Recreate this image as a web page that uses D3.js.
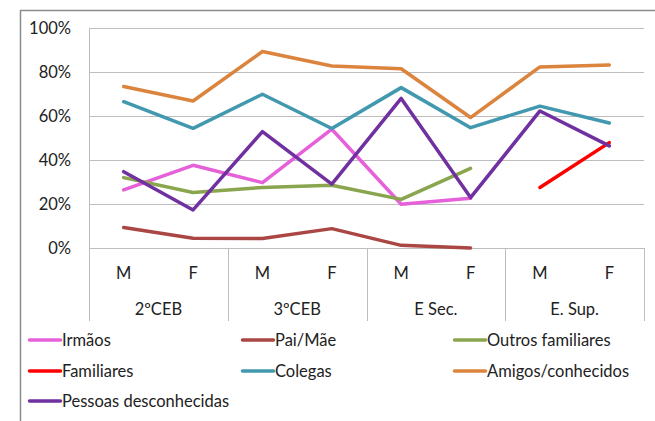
<!DOCTYPE html>
<html>
<head>
<meta charset="utf-8">
<script src="https://cdn.jsdelivr.net/npm/d3@7"></script>
<style>
  body { margin: 0; background: #fff; }
  svg { display: block; font-family: Lato, "Open Sans", sans-serif; }
</style>
</head>
<body>
<div id="chart"></div>
<script>
// categories
const groups = ["2ºCEB", "3ºCEB", "E Sec.", "E. Sup."];
const sexes = ["M", "F"];
const yTicks = [0, 0.2, 0.4, 0.6, 0.8, 1];

// series values (null = no data)
const irmaos      = [0.264, 0.376, 0.297, 0.54, 0.199, 0.226, null, null];
const paiMae      = [0.093, 0.044, 0.043, 0.088, 0.012, 0.0, null, null];
const outrosFam   = [0.32, 0.252, 0.275, 0.285, 0.221, 0.362, null, null];
const familiares  = [null, null, null, null, null, null, 0.275, 0.479];
const colegas     = [0.665, 0.544, 0.699, 0.543, 0.729, 0.547, 0.645, 0.568];
const amigos      = [0.734, 0.668, 0.893, 0.827, 0.815, 0.593, 0.823, 0.832];
const desconhec   = [0.347, 0.173, 0.529, 0.29, 0.68, 0.229, 0.623, 0.464];

const seriesNames = ["Irmãos", "Pai/Mãe", "Outros familiares", "Familiares", "Colegas", "Amigos/conhecidos", "Pessoas desconhecidas"];
const seriesValues = [irmaos, paiMae, outrosFam, familiares, colegas, amigos, desconhec];
const seriesColors = ["#e660d9", "#aa4643", "#89a54e", "#ff0000", "#4198af", "#db843d", "#7030a0"];

const W = 655, H = 421;
const plot = { left: 89, right: 644, top: 28, bottom: 248 };
const fontSize = 16.5;

const svg = d3.select("#chart").append("svg")
  .attr("width", W).attr("height", H);

// outer chart frame (runs past the picture edge on the right and bottom)
svg.append("path")
  .attr("d", `M20.5,${H + 2}V10.5H${W + 2}`)
  .attr("fill", "none")
  .attr("stroke", "#8c8c8c")
  .attr("stroke-width", 1.5);

const cats = [];
groups.forEach(g => sexes.forEach(s => cats.push(g + "|" + s)));

const x = d3.scaleBand().domain(cats).range([plot.left, plot.right]);
const xGroup = d3.scaleBand().domain(groups).range([plot.left, plot.right]);
const y = d3.scaleLinear().domain([0, 1]).range([plot.bottom, plot.top]);

// gridlines
svg.append("g")
  .selectAll("line")
  .data(yTicks.filter(t => t > 0))
  .join("line")
  .attr("x1", plot.left).attr("x2", plot.right)
  .attr("y1", d => Math.round(y(d)) + 0.5).attr("y2", d => Math.round(y(d)) + 0.5)
  .attr("stroke", "#bdbdbd");

// y axis labels
const yAxis = d3.axisLeft(y).tickValues(yTicks).tickSize(0).tickPadding(18)
  .tickFormat(d3.format(".0%"));
svg.append("g")
  .attr("transform", `translate(${plot.left},0)`)
  .call(yAxis)
  .call(g => g.select(".domain").attr("stroke", "#bdbdbd"))
  .call(g => g.selectAll("text").attr("font-size", fontSize).attr("fill", "#222").attr("font-family", "Lato, sans-serif"));

// x axis baseline and dividers
svg.append("line")
  .attr("x1", plot.left).attr("x2", plot.right)
  .attr("y1", plot.bottom + 0.5).attr("y2", plot.bottom + 0.5)
  .attr("stroke", "#bdbdbd");

const dividers = groups.map(g => xGroup(g)).concat([plot.right]);
svg.append("g")
  .selectAll("line")
  .data(dividers)
  .join("line")
  .attr("x1", d => Math.round(d) + 0.5).attr("x2", d => Math.round(d) + 0.5)
  .attr("y1", plot.bottom).attr("y2", 321)
  .attr("stroke", "#bdbdbd");

// category labels
svg.append("g")
  .selectAll("text")
  .data(cats)
  .join("text")
  .attr("x", d => x(d) + x.bandwidth() / 2)
  .attr("y", 273)
  .attr("dy", "0.35em")
  .attr("text-anchor", "middle")
  .attr("font-size", fontSize)
  .attr("fill", "#222")
  .text(d => d.split("|")[1]);

svg.append("g")
  .selectAll("text")
  .data(groups)
  .join("text")
  .attr("x", d => xGroup(d) + xGroup.bandwidth() / 2)
  .attr("y", 309)
  .attr("dy", "0.35em")
  .attr("text-anchor", "middle")
  .attr("font-size", fontSize)
  .attr("fill", "#222")
  .text(d => d);

// lines
const line = d3.line()
  .defined(d => d.v != null)
  .x(d => x(d.c) + x.bandwidth() / 2)
  .y(d => y(d.v));

svg.append("g")
  .selectAll("path")
  .data(seriesValues.map((vals, i) => ({ i, pts: vals.map((v, j) => ({ c: cats[j], v })) })))
  .join("path")
  .attr("d", d => line(d.pts))
  .attr("fill", "none")
  .attr("stroke", d => seriesColors[d.i])
  .attr("stroke-width", 3.5)
  .attr("stroke-linejoin", "round")
  .attr("stroke-linecap", "round");

// legend
const legendCols = [28, 241, 453];
const legendRows = [340, 371, 401];
const legend = svg.append("g")
  .selectAll("g")
  .data(seriesNames)
  .join("g")
  .attr("transform", (d, i) => `translate(${legendCols[i % 3]},${legendRows[Math.floor(i / 3)]})`);

legend.append("line")
  .attr("x1", 1.5).attr("x2", 32.5)
  .attr("stroke", (d, i) => seriesColors[i])
  .attr("stroke-width", 3.5)
  .attr("stroke-linecap", "round");

legend.append("text")
  .attr("x", 34)
  .attr("dy", "0.35em")
  .attr("font-size", fontSize)
  .attr("fill", "#222")
  .text(d => d);
</script>
</body>
</html>
